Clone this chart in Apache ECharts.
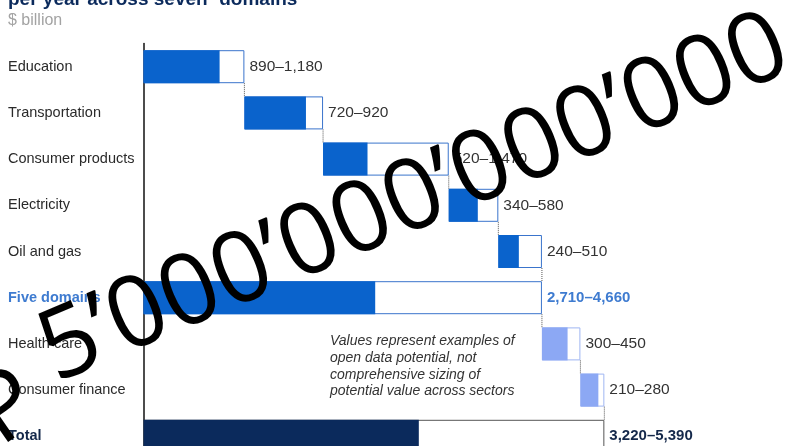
<!DOCTYPE html>
<html>
<head>
<meta charset="utf-8">
<script src="https://cdn.jsdelivr.net/npm/echarts@6/dist/echarts.min.js"></script>
<style>
html,body{margin:0;padding:0;background:#fff;}
#chart{width:787px;height:446px;}
</style>
</head>
<body>
<div id="chart"></div>
<script>
// ---- data ----
const categories = ['Education','Transportation','Consumer products','Electricity','Oil and gas','Five domains','Health care','Consumer finance','Total'];
const lowValues  = [890, 720, 520, 340, 240, 2710, 300, 210, 3220];
const highValues = [1180, 920, 1470, 580, 510, 4660, 450, 280, 5390];
const isTotalRow = [false, false, false, false, false, true, false, false, true];
const titleText = 'per year across seven\u00B9 domains';
const unitText = '$ billion';
const noteLines = ['Values represent examples of', 'open data potential, not', 'comprehensive sizing of', 'potential value across sectors'];
const overlayHead = 'P';
const overlayRest = '5\u2019000\u2019000\u2019000\u2019000';

// ---- derived (waterfall offsets) ----
const offsets = [];
let running = 0;
for (let i = 0; i < categories.length; i++) {
  if (isTotalRow[i]) { offsets.push(0); }
  else { offsets.push(running); running += highValues[i]; }
}
const fmt = v => v.toLocaleString('en-US');
const rangeLabels = lowValues.map((l, i) => fmt(l) + '\u2013' + fmt(highValues[i]));
const connectorData = [];
for (let i = 0; i < categories.length - 1; i++) connectorData.push([offsets[i] + highValues[i], i]);

const BLUE = '#0a63cc', LIGHT = '#8ca8f4', NAVY = '#0b2a5c';
function fillColor(i) {
  if (categories[i] === 'Total') return NAVY;
  if (i > 5) return LIGHT;
  return BLUE;
}
function borderColor(i) {
  if (categories[i] === 'Total') return '#555';
  if (i > 5) return '#9fb6f2';
  return '#3a74cc';
}

const chart = echarts.init(document.getElementById('chart'), null, {renderer: 'canvas'});
const BARW = 33;
const font = 'Liberation Sans, Arial, sans-serif';

const option = {
  animation: false,
  backgroundColor: '#fff',
  grid: {left: 143.5, top: 43.6, width: 598.5, height: 415.8, containLabel: false, outerBoundsMode: 'none'},
  xAxis: {type: 'value', min: 0, max: 7000, show: false},
  yAxis: {
    type: 'category', inverse: true, data: categories,
    axisLine: {show: true, lineStyle: {color: '#111', width: 1.5}},
    axisTick: {show: false},
    splitLine: {show: false},
    axisLabel: {
      margin: 135.5, align: 'left', fontFamily: font, fontSize: 14.5, color: '#2a2a2a',
      formatter: v => v === 'Five domains' ? '{b|' + v + '}' : (v === 'Total' ? '{t|' + v + '}' : v),
      rich: {
        b: {color: '#3e7bd0', fontWeight: 'bold', fontSize: 14.5, fontFamily: font},
        t: {color: '#14284a', fontWeight: 'bold', fontSize: 14.5, fontFamily: font}
      }
    }
  },
  series: [
    {type: 'bar', stack: 'h', barWidth: BARW, barGap: '-100%', silent: true,
     itemStyle: {color: 'transparent'}, data: offsets},
    {type: 'bar', stack: 'h', barWidth: BARW, barGap: '-100%',
     data: highValues.map((v, i) => ({value: v, itemStyle: {color: '#fff', borderColor: borderColor(i), borderWidth: 1}})),
     label: {
       show: true, position: 'right', distance: 5, fontFamily: font, fontSize: 15.5, color: '#333',
       formatter: p => {
         const i = p.dataIndex;
         if (categories[i] === 'Five domains') return '{b|' + rangeLabels[i] + '}';
         if (categories[i] === 'Total') return '{t|' + rangeLabels[i] + '}';
         return rangeLabels[i];
       },
       rich: {
         b: {color: '#3e7bd0', fontWeight: 'bold', fontSize: 15, fontFamily: font},
         t: {color: '#14284a', fontWeight: 'bold', fontSize: 15, fontFamily: font}
       }
     }},
    {type: 'bar', stack: 'l', barWidth: BARW, barGap: '-100%', silent: true,
     itemStyle: {color: 'transparent'}, data: offsets},
    {type: 'bar', stack: 'l', barWidth: BARW, barGap: '-100%',
     data: lowValues.map((v, i) => ({value: v, itemStyle: {color: fillColor(i)}}))},
    {type: 'custom', coordinateSystem: 'cartesian2d', silent: true,
     encode: {x: 0, y: 1}, data: connectorData,
     renderItem: (params, api) => {
       const x = api.value(0), idx = api.value(1);
       const p1 = api.coord([x, idx]);
       const p2 = api.coord([x, idx + 1]);
       return {type: 'line', shape: {x1: p1[0], y1: p1[1] + BARW / 2, x2: p2[0], y2: p2[1] - BARW / 2},
               style: {stroke: '#555', lineWidth: 1, lineDash: [1, 1]}};
     }}
  ],
  graphic: [
    {type: 'text', x: 8, y: 0, style: {text: titleText, font: 'bold 19px ' + font, fill: '#0b2a5c', textVerticalAlign: 'middle'}},
    {type: 'text', x: 8, y: 20.5, style: {text: unitText, font: '16px ' + font, fill: '#a3a3a3', textVerticalAlign: 'middle'}},
    {type: 'text', x: 330, y: 333, style: {text: noteLines.join('\n'), font: 'italic 14px ' + font, fill: '#333', lineHeight: 16.7, textVerticalAlign: 'top'}},
    {type: 'text', x: -15, y: 425, rotation: 35 * Math.PI / 180, z: 100,
     style: {text: overlayHead, font: '500 95px "Open Sans"', fill: '#000', textAlign: 'left', textVerticalAlign: 'middle'}},
    {type: 'text', x: 45, y: 357, rotation: 23 * Math.PI / 180, z: 100,
     style: {text: overlayRest, font: '500 99px "Open Sans"', fill: '#000', textAlign: 'left', textVerticalAlign: 'middle'}}
  ]
};
chart.setOption(option);
</script>
</body>
</html>
